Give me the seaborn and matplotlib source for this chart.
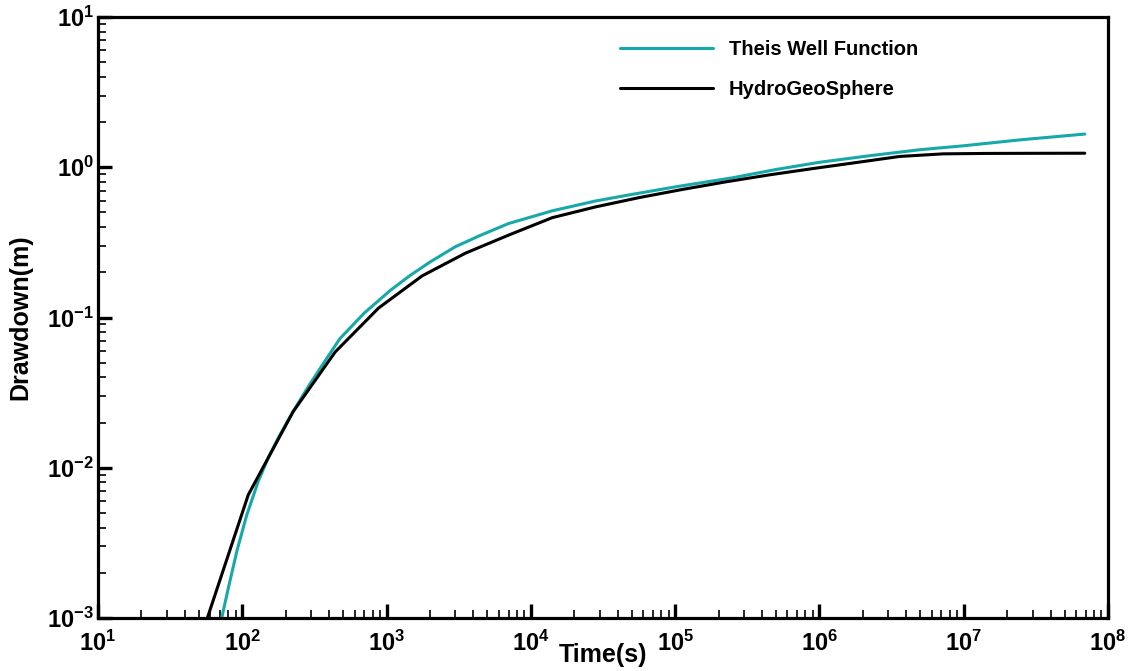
import numpy as np
import pandas as pd
import matplotlib
matplotlib.use("Agg")
import matplotlib.pyplot as plt
import seaborn as sns
from matplotlib.ticker import LogLocator, FuncFormatter, NullFormatter, FixedLocator

# Data
theis_t = [72, 80, 92, 107, 129, 153, 180, 225, 291, 380, 475, 700, 1057, 1450, 2000,
           3000, 4436, 7000, 14080, 28000, 48600, 1.0e5, 2.5e5, 5.0e5, 1.0e6, 2.24e6,
           5.0e6, 1.0e7, 2.5e7, 6.9e7]
theis_s = [0.00100, 0.00158, 0.00282, 0.00479, 0.00813, 0.0119, 0.0162, 0.0237,
           0.0355, 0.0525, 0.0724, 0.107, 0.151, 0.190, 0.234, 0.296, 0.351, 0.422,
           0.513, 0.596, 0.656, 0.740, 0.851, 0.966, 1.079, 1.194, 1.309, 1.390,
           1.524, 1.663]

hgs_t = [55, 110, 225, 440, 880, 1760, 3520, 7040, 14080, 28160, 56320, 112640,
         225280, 450560, 901120, 1.8e6, 3.6e6, 7.2e6, 1.44e7, 2.88e7, 6.9e7]
hgs_s = [0.00089, 0.0066, 0.0236, 0.0589, 0.1156, 0.189, 0.268, 0.354, 0.462, 0.545,
         0.628, 0.712, 0.80, 0.89, 0.98, 1.075, 1.18, 1.228, 1.236, 1.238, 1.24]

x_ticks = [1e1, 1e2, 1e3, 1e4, 1e5, 1e6, 1e7, 1e8]
y_ticks = [1e-3, 1e-2, 1e-1, 1e0, 1e1]

series_names = ["Theis Well Function", "HydroGeoSphere"]
series_colors = ["#17a9a9", "#000000"]

df = pd.concat([
    pd.DataFrame({"Time": theis_t, "Drawdown": theis_s, "series": series_names[0]}),
    pd.DataFrame({"Time": hgs_t, "Drawdown": hgs_s, "series": series_names[1]}),
], ignore_index=True)

sns.set_theme(style="white")
plt.rcParams["font.family"] = ["Liberation Sans", "DejaVu Sans"]
plt.rcParams["font.weight"] = "bold"
plt.rcParams["text.color"] = "black"
plt.rcParams["axes.labelcolor"] = "black"
plt.rcParams["xtick.color"] = "black"
plt.rcParams["ytick.color"] = "black"
plt.rcParams["mathtext.fontset"] = "custom"
plt.rcParams["mathtext.rm"] = "Liberation Sans:bold"
plt.rcParams["mathtext.bf"] = "Liberation Sans:bold"
plt.rcParams["mathtext.it"] = "Liberation Sans:bold"
plt.rcParams["mathtext.sf"] = "Liberation Sans:bold"

fig = plt.figure(figsize=(11.31, 6.71), dpi=100)
ax = fig.add_axes([98 / 1131, 53 / 671, 1010 / 1131, 601 / 671])

sns.lineplot(data=df, x="Time", y="Drawdown", hue="series", hue_order=series_names,
             palette=dict(zip(series_names, series_colors)), linewidth=2.2,
             sort=False, estimator=None, ax=ax)

ax.set_xscale("log")
ax.set_yscale("log")
ax.set_xlim(x_ticks[0], x_ticks[-1])
ax.set_ylim(y_ticks[0], y_ticks[-1])

def fmt(v, pos):
    e = int(round(np.log10(v)))
    return r"$\mathbf{10^{%d}}$" % e

ax.xaxis.set_major_locator(FixedLocator(x_ticks))
ax.yaxis.set_major_locator(FixedLocator(y_ticks))
ax.xaxis.set_minor_locator(LogLocator(base=10, subs=np.arange(2, 10), numticks=20))
ax.yaxis.set_minor_locator(LogLocator(base=10, subs=np.arange(2, 10), numticks=20))
ax.xaxis.set_major_formatter(FuncFormatter(fmt))
ax.yaxis.set_major_formatter(FuncFormatter(fmt))
ax.xaxis.set_minor_formatter(NullFormatter())
ax.yaxis.set_minor_formatter(NullFormatter())

ax.tick_params(which="major", direction="in", length=10, width=2.4, labelsize=17,
               bottom=True, left=True, top=False, right=False, colors="black")
ax.tick_params(axis="x", which="major", pad=9)
ax.tick_params(axis="y", which="major", pad=3)
ax.tick_params(which="minor", direction="in", length=6, width=1.2,
               bottom=True, left=True, top=False, right=False)

for s in ax.spines.values():
    s.set_visible(True)
    s.set_color("black")
    s.set_linewidth(2.3)

ax.set_xlabel("Time(s)", fontsize=18, fontweight="bold", color="black")
ax.set_ylabel("Drawdown(m)", fontsize=18, fontweight="bold", color="black")
ax.xaxis.set_label_coords(0.5, -0.042)
ax.yaxis.set_label_coords(-0.065, 0.5)
ax.grid(False)

handles, labels = ax.get_legend_handles_labels()
leg = ax.legend(handles, labels, loc="upper left", bbox_to_anchor=(0.517, 0.962),
                frameon=False, fontsize=14.5, handlelength=4.6, handletextpad=0.8,
                labelspacing=1.05, borderpad=0, borderaxespad=0)
for t in leg.get_texts():
    t.set_fontweight("bold")
    t.set_color("black")
for l in leg.get_lines():
    l.set_linewidth(2.2)

fig.savefig("out.png", dpi=100)
